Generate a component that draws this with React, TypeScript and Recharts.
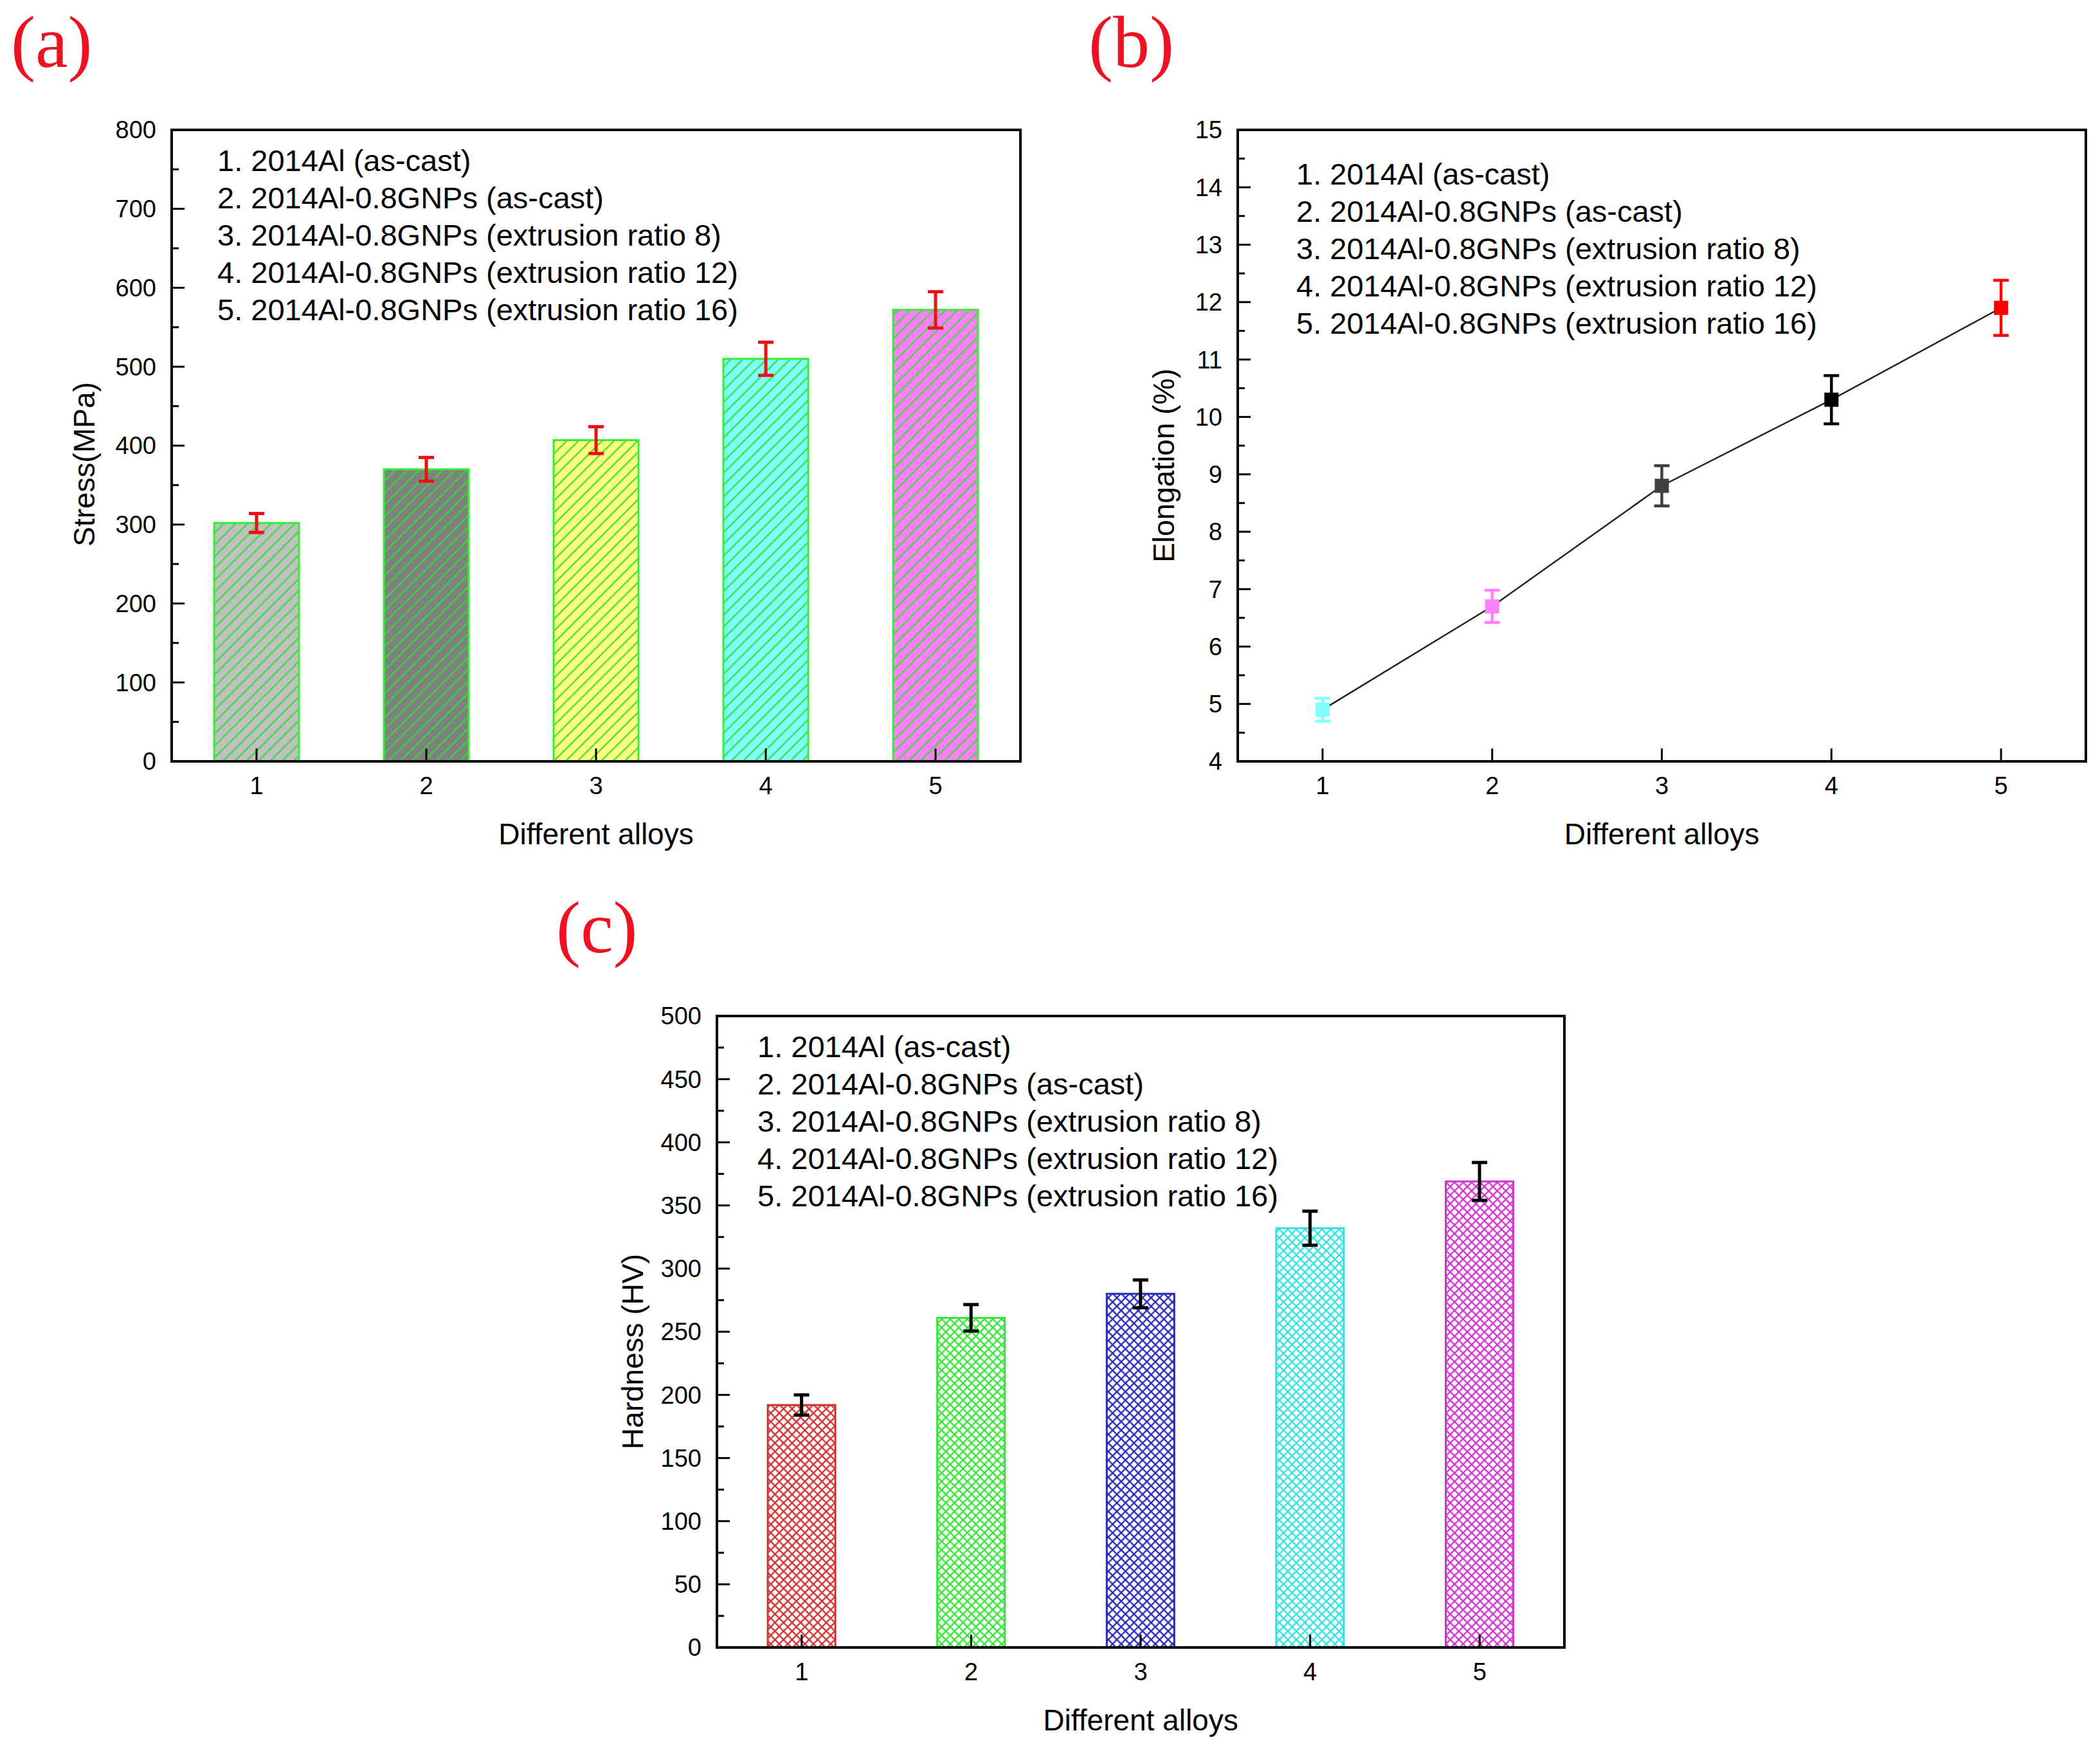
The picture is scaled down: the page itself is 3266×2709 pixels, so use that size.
import React from 'react';
import {
  BarChart,
  Bar,
  Cell,
  ErrorBar,
  XAxis,
  YAxis,
  ReferenceArea,
  Legend,
  ComposedChart,
  Line,
  Scatter,
} from 'recharts';

const ALLOYS = ['1', '2', '3', '4', '5'];
const ALLOY_LABELS = [
  '1. 2014Al (as-cast)',
  '2. 2014Al-0.8GNPs (as-cast)',
  '3. 2014Al-0.8GNPs (extrusion ratio 8)',
  '4. 2014Al-0.8GNPs (extrusion ratio 12)',
  '5. 2014Al-0.8GNPs (extrusion ratio 16)',
];

// (a) tensile stress
const STRESS = [302, 370, 407, 510, 572];
const STRESS_ERR = [12, 15, 17, 21, 23];
const STRESS_TICKS = [0, 100, 200, 300, 400, 500, 600, 700, 800];
const STRESS_FILLS = ['#c0c0c0', '#808080', '#ffff80', '#80ffff', '#ff80ff'];

// (b) elongation
const ELONGATION = [4.9, 6.7, 8.8, 10.3, 11.9];
const ELONGATION_ERR = [0.2, 0.28, 0.35, 0.42, 0.48];
const ELONGATION_TICKS = [4, 5, 6, 7, 8, 9, 10, 11, 12, 13, 14, 15];
const ELONGATION_COLORS = ['#80ffff', '#ff80ff', '#404040', '#000000', '#ff0000'];

// (c) hardness
const HARDNESS = [192, 261, 280, 332, 369];
const HARDNESS_ERR = [8, 10.5, 11, 13.5, 15];
const HARDNESS_TICKS = [0, 50, 100, 150, 200, 250, 300, 350, 400, 450, 500];
const HARDNESS_COLORS = ['#d03030', '#33e633', '#2a2ab8', '#33e0e0', '#d033d0'];

const FONT = '"Liberation Sans", Arial, sans-serif';
const TICK_GAP = 24;

// major ticks plus an unlabelled minor tick halfway between each pair
const withMinor = (ticks: number[]) =>
  ticks.flatMap((t, i) => (i === 0 ? [t] : [(ticks[i - 1] + t) / 2, t]));

const stressData = ALLOYS.map((a, i) => ({ alloy: a, value: STRESS[i], err: STRESS_ERR[i] }));
const hardnessData = ALLOYS.map((a, i) => ({ alloy: a, value: HARDNESS[i], err: HARDNESS_ERR[i] }));
const elongationData = ALLOYS.map((a, i) => ({ x: Number(a), y: ELONGATION[i], err: ELONGATION_ERR[i] }));

// ticks point inwards, so draw them ourselves next to the label
const makeYTick = (major: number[]) => (props: any) => {
  const { x, y, payload } = props;
  const isMajor = major.includes(payload.value);
  const axisX = x + TICK_GAP;
  return (
    <g>
      <line x1={axisX} y1={y} x2={axisX + (isMajor ? 20 : 11)} y2={y} stroke="#000" strokeWidth={3} />
      {isMajor && (
        <text x={x} y={y} dy="0.355em" textAnchor="end" fontSize={38} fontFamily={FONT} fill="#000">
          {payload.value}
        </text>
      )}
    </g>
  );
};

const XTick = (props: any) => {
  const { x, y, payload } = props;
  const axisY = y - TICK_GAP;
  return (
    <g>
      <line x1={x} y1={axisY} x2={x} y2={axisY - 20} stroke="#000" strokeWidth={3} />
      <text x={x} y={y} dy="0.71em" textAnchor="middle" fontSize={38} fontFamily={FONT} fill="#000">
        {payload.value}
      </text>
    </g>
  );
};

const AlloyList = () => (
  <div style={{ fontFamily: FONT, fontSize: 47, lineHeight: '58px', color: '#000', whiteSpace: 'nowrap' }}>
    {ALLOY_LABELS.map((t) => (
      <div key={t}>{t}</div>
    ))}
  </div>
);

const PanelTag = ({ text, left, top }: { text: string; left: number; top: number }) => (
  <div
    style={{
      position: 'absolute',
      left,
      top,
      fontFamily: '"Liberation Serif", "Times New Roman", serif',
      fontSize: 114,
      lineHeight: 1,
      color: '#ee1122',
    }}
  >
    {text}
  </div>
);

const titleStyle = { fontSize: 46, fontFamily: FONT, fill: '#000' };
const axisLine = { stroke: '#000', strokeWidth: 4 };

const StressChart = () => (
  <div style={{ position: 'absolute', left: -5, top: 0 }}>
    <BarChart
      width={1612}
      height={1410}
      data={stressData}
      margin={{ top: 202, right: 20, bottom: 0, left: 0 }}
      barCategoryGap="25%"
    >
      <defs>
        {STRESS_FILLS.map((c, i) => (
          <pattern
            key={i}
            id={`stressHatch${i}`}
            width={13}
            height={13}
            patternUnits="userSpaceOnUse"
            patternTransform="rotate(45)"
          >
            <rect width={13} height={13} fill={c} />
            <line x1={6.5} y1={0} x2={6.5} y2={13} stroke="#33dd33" strokeWidth={2.2} />
          </pattern>
        ))}
      </defs>
      <ReferenceArea y1={0} y2={800} fill="none" stroke="#000" strokeWidth={4} ifOverflow="visible" />
      <XAxis
        dataKey="alloy"
        height={226}
        axisLine={axisLine}
        tickLine={false}
        tickSize={0}
        tickMargin={TICK_GAP}
        interval={0}
        tick={XTick}
        label={{ value: 'Different alloys', position: 'center', ...titleStyle }}
      />
      <YAxis
        type="number"
        domain={[0, 800]}
        ticks={withMinor(STRESS_TICKS)}
        interval={0}
        width={272}
        axisLine={axisLine}
        tickLine={false}
        tickSize={0}
        tickMargin={TICK_GAP}
        tick={makeYTick(STRESS_TICKS)}
        label={{ value: 'Stress(MPa)', angle: -90, position: 'center', dy: 29, ...titleStyle }}
      />
      <Legend
        layout="vertical"
        align="center"
        verticalAlign="middle"
        content={<AlloyList />}
        wrapperStyle={{ left: 343, top: 221, width: 'auto' }}
      />
      <Bar dataKey="value" stroke="#33ee33" strokeWidth={3} isAnimationActive={false}>
        {stressData.map((_, i) => (
          <Cell key={i} fill={`url(#stressHatch${i})`} />
        ))}
        <ErrorBar dataKey="err" width={12} strokeWidth={5} stroke="#ee1111" />
      </Bar>
    </BarChart>
  </div>
);

const squareShape = (color: string) => (p: any) =>
  <rect x={p.cx - 11} y={p.cy - 11} width={22} height={22} fill={color} />;

const ElongationChart = () => (
  <div style={{ position: 'absolute', left: 1695, top: 0 }}>
    <ComposedChart
      width={1569}
      height={1410}
      data={elongationData}
      margin={{ top: 202, right: 20, bottom: 0, left: 0 }}
    >
      <ReferenceArea y1={4} y2={15} fill="none" stroke="#000" strokeWidth={4} ifOverflow="visible" />
      <XAxis
        type="number"
        dataKey="x"
        domain={[0.5, 5.5]}
        ticks={ALLOYS.map(Number)}
        height={226}
        axisLine={axisLine}
        tickLine={false}
        tickSize={0}
        tickMargin={TICK_GAP}
        interval={0}
        tick={XTick}
        label={{ value: 'Different alloys', position: 'center', ...titleStyle }}
      />
      <YAxis
        type="number"
        dataKey="y"
        domain={[4, 15]}
        ticks={withMinor(ELONGATION_TICKS)}
        interval={0}
        width={230}
        axisLine={axisLine}
        tickLine={false}
        tickSize={0}
        tickMargin={TICK_GAP}
        tick={makeYTick(ELONGATION_TICKS)}
        label={{ value: 'Elongation (%)', angle: -90, position: 'center', dy: 31, ...titleStyle }}
      />
      <Legend
        layout="vertical"
        align="center"
        verticalAlign="middle"
        content={<AlloyList />}
        wrapperStyle={{ left: 321, top: 242, width: 'auto' }}
      />
      <Line dataKey="y" stroke="#222" strokeWidth={2.5} dot={false} isAnimationActive={false} />
      {elongationData.map((d, i) => (
        <Scatter
          key={i}
          data={[d]}
          dataKey="y"
          fill={ELONGATION_COLORS[i]}
          shape={squareShape(ELONGATION_COLORS[i])}
          isAnimationActive={false}
        >
          <ErrorBar dataKey="err" direction="y" width={12} strokeWidth={4.5} stroke={ELONGATION_COLORS[i]} />
        </Scatter>
      ))}
    </ComposedChart>
  </div>
);

const HardnessChart = () => (
  <div style={{ position: 'absolute', left: 853, top: 1380 }}>
    <BarChart
      width={1600}
      height={1408}
      data={hardnessData}
      margin={{ top: 200, right: 20, bottom: 0, left: 0 }}
      barCategoryGap="30%"
    >
      <defs>
        {HARDNESS_COLORS.map((c, i) => (
          <pattern
            key={i}
            id={`hardHatch${i}`}
            width={9.4}
            height={9.4}
            patternUnits="userSpaceOnUse"
            patternTransform="rotate(45)"
          >
            <rect width={9.4} height={9.4} fill="#fff" />
            <line x1={4.7} y1={0} x2={4.7} y2={9.4} stroke={c} strokeWidth={2.4} />
            <line x1={0} y1={4.7} x2={9.4} y2={4.7} stroke={c} strokeWidth={2.4} />
          </pattern>
        ))}
      </defs>
      <ReferenceArea y1={0} y2={500} fill="none" stroke="#000" strokeWidth={4} ifOverflow="visible" />
      <XAxis
        dataKey="alloy"
        height={226}
        axisLine={axisLine}
        tickLine={false}
        tickSize={0}
        tickMargin={TICK_GAP}
        interval={0}
        tick={XTick}
        label={{ value: 'Different alloys', position: 'center', ...titleStyle }}
      />
      <YAxis
        type="number"
        domain={[0, 500]}
        ticks={withMinor(HARDNESS_TICKS)}
        interval={0}
        width={262}
        axisLine={axisLine}
        tickLine={false}
        tickSize={0}
        tickMargin={TICK_GAP}
        tick={makeYTick(HARDNESS_TICKS)}
        label={{ value: 'Hardness (HV)', angle: -90, position: 'center', dy: 31, ...titleStyle }}
      />
      <Legend
        layout="vertical"
        align="center"
        verticalAlign="middle"
        content={<AlloyList />}
        wrapperStyle={{ left: 325, top: 219, width: 'auto' }}
      />
      <Bar dataKey="value" strokeWidth={3} isAnimationActive={false}>
        {hardnessData.map((_, i) => (
          <Cell key={i} fill={`url(#hardHatch${i})`} stroke={HARDNESS_COLORS[i]} />
        ))}
        <ErrorBar dataKey="err" width={12} strokeWidth={5} stroke="#000" />
      </Bar>
    </BarChart>
  </div>
);

export default function App() {
  return (
    <div
      style={{
        position: 'absolute',
        left: 0,
        top: 0,
        width: 3266,
        height: 2709,
        overflow: 'hidden',
        background: '#fff',
      }}
    >
      <PanelTag text="(a)" left={17} top={9} />
      <PanelTag text="(b)" left={1693} top={9} />
      <PanelTag text="(c)" left={865} top={1386} />
      <StressChart />
      <ElongationChart />
      <HardnessChart />
    </div>
  );
}
